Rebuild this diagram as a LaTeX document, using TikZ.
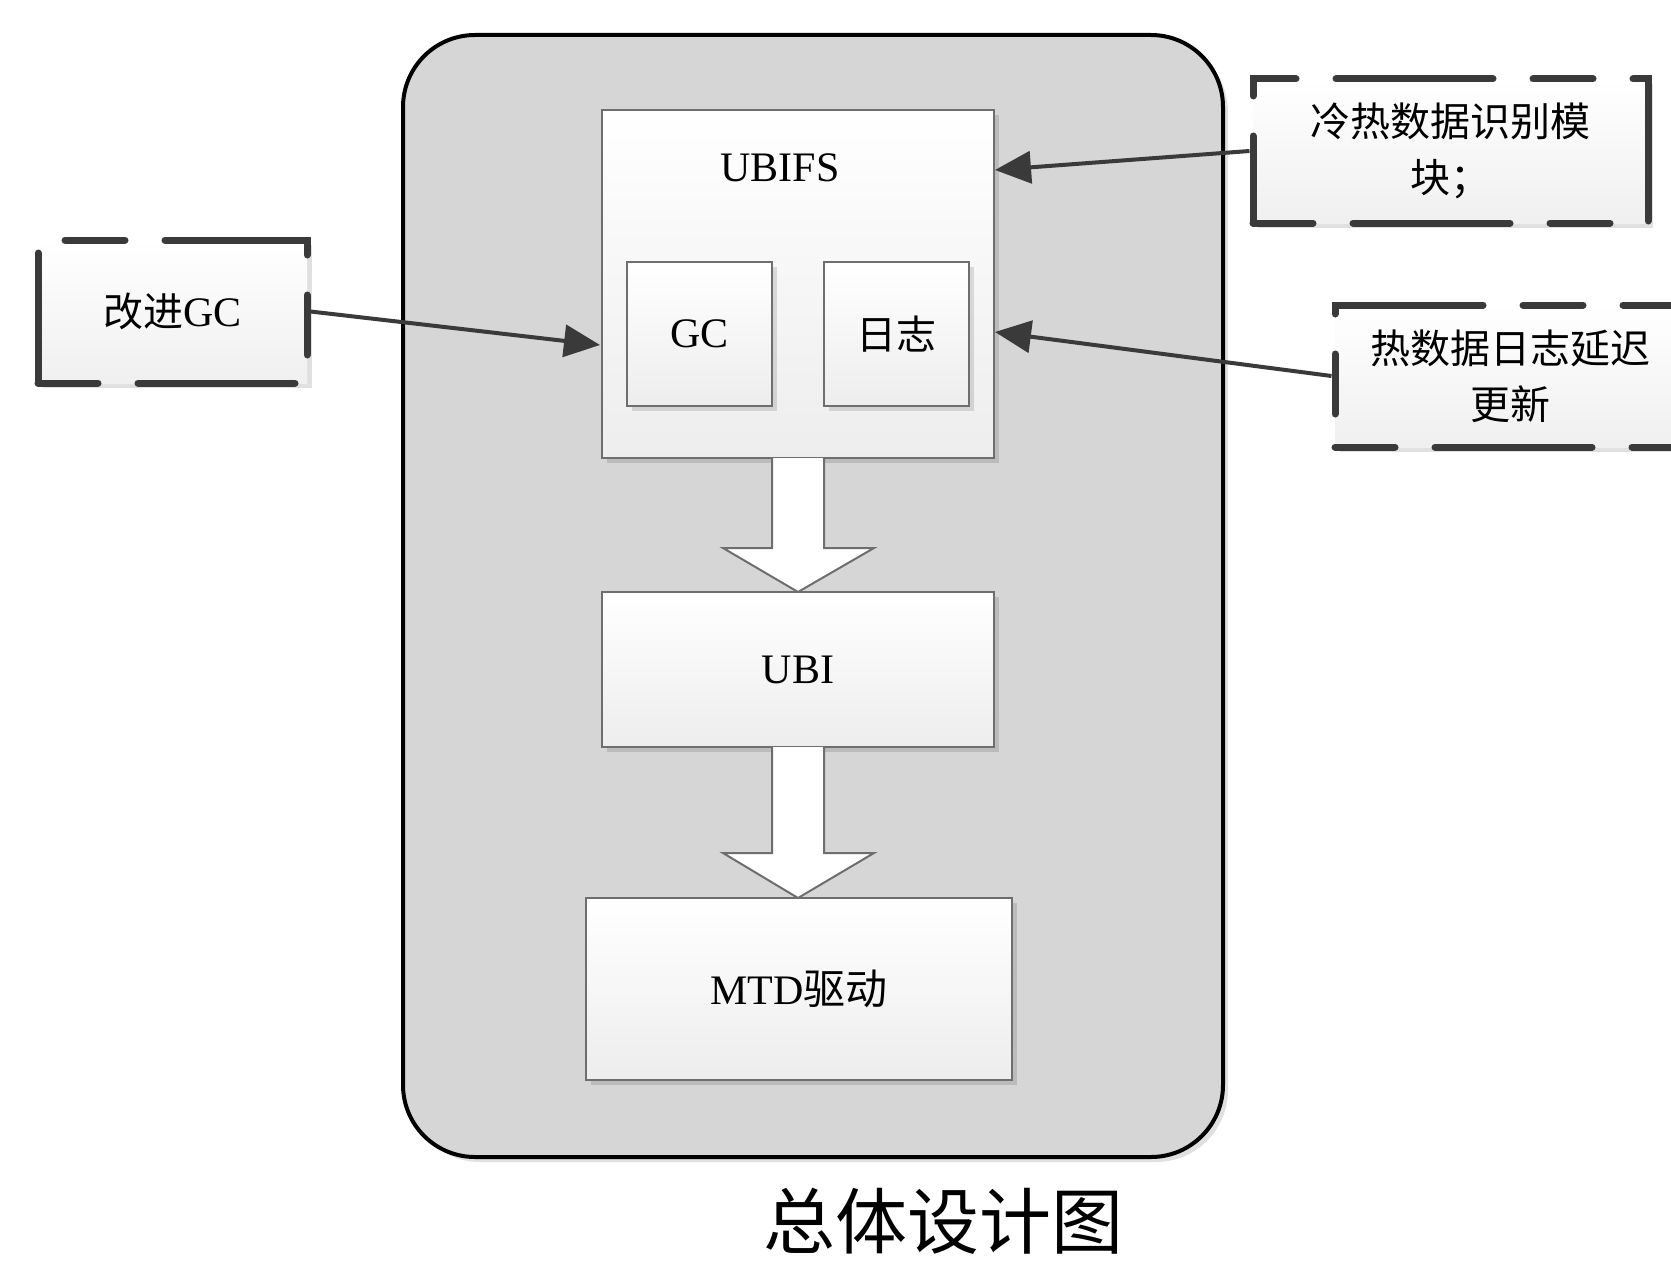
\documentclass[tikz,border=0pt]{standalone}
\usepackage{fontspec}
\setmainfont{Liberation Serif}
\newfontfamily\cjk{Noto Sans CJK SC}
\usetikzlibrary{arrows.meta,shadows,calc}
\definecolor{boxline}{HTML}{6E6E6E}
\definecolor{dashcol}{HTML}{3A3A3A}
\definecolor{panel}{HTML}{D6D6D6}
\tikzset{
  shade/.style={drop shadow={shadow xshift=5pt,shadow yshift=-5pt,opacity=0.12,fill=black}},
  inbox/.style={draw=boxline,line width=2pt,shade,top color=white,bottom color=black!7,
    inner sep=0pt,font=\fontsize{42}{50}\selectfont},
  dashbox/.style={draw=dashcol,line width=7pt,line cap=round,
    dash pattern=on 60pt off 40pt on 157pt off 40pt,
    shade,top color=white,bottom color=black!6,inner sep=0pt,
    font=\fontsize{40}{56}\selectfont\cjk,align=center},
  link/.style={draw=dashcol,line width=4pt,-{Triangle[length=36pt,width=32pt]}},
  blockarrow/.style={draw=boxline,line width=2pt,fill=white,line join=miter}
}
\begin{document}
\begin{tikzpicture}[x=1pt,y=-1pt]
\useasboundingbox (0,0) rectangle (1671,1263);
% outer panel
\node[draw=black,line width=4pt,fill=panel,rounded corners=72pt,shade,
  minimum width=820pt,minimum height=1122pt,inner sep=0pt] (panel) at (813,596) {};
% UBIFS
\node[inbox,minimum width=392pt,minimum height=348pt] (ubifs) at (798,284) {};
\node[font=\fontsize{42}{50}\selectfont] (ubifst) at (780,168) {UBIFS};
\node[inbox,minimum width=145pt,minimum height=144pt] (gc) at (699.5,334) {GC};
\node[inbox,minimum width=145pt,minimum height=144pt,font=\fontsize{40}{48}\selectfont\cjk] (log) at (896.5,334) {日志};
% UBI and MTD
\node[inbox,minimum width=392pt,minimum height=155pt] (ubi) at (798,669.5) {UBI};
\node[inbox,minimum width=426pt,minimum height=182pt] (mtd) at (799,989) {MTD{\cjk 驱动}};
% block arrows
\draw[blockarrow] (772,458) -- (772,548) -- (723,548) -- (798,592) -- (874,548) -- (824,548) -- (824,458);
\draw[blockarrow] (772,747) -- (772,853) -- (723,853) -- (798,898) -- (874,853) -- (824,853) -- (824,747);
% dashed boxes
\node[dashbox,minimum width=269pt,minimum height=143pt] (imp) at (172.5,311.5) {改进{\rmfamily\fontsize{42}{50}\selectfont GC}};
\node[dashbox,minimum width=395pt,minimum height=144pt] (cold) at (1450.5,151) {冷热数据识别模\\块；};
\begin{scope}
\clip (0,0) rectangle (1671,1263);
\node[dashbox,minimum width=350pt,minimum height=142pt] (hot) at (1510,376) {热数据日志延迟\\更新};
\end{scope}
% connectors
\coordinate (t1) at (995,170);
\coordinate (t2) at (995,332);
\coordinate (t3) at (600,345);
\draw[link] (cold.west) -- (t1);
\draw[link] (hot.west) -- (t2);
\draw[link] (imp.east) -- (t3);
% title
\node[font=\fontsize{72}{80}\selectfont\cjk] (title) at (943,1221) {总体设计图};
\end{tikzpicture}
\end{document}
